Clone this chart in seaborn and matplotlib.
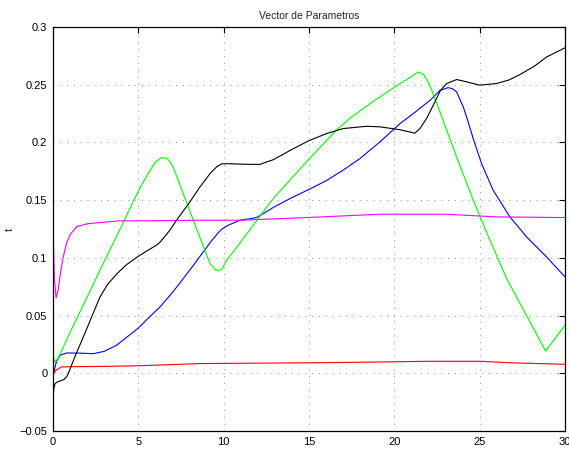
import pandas as pd
import matplotlib
matplotlib.use("Agg")
import matplotlib.pyplot as plt
import seaborn as sns

# values (x, parameter value)
blue_x = [0, 0.1, 0.2, 0.41, 0.8, 1.5, 2.36, 3.0, 3.73, 4.3, 4.96, 5.6, 6.27, 7.0, 7.63,
          8.2, 8.7, 9.3, 9.7, 9.9, 10.3, 10.96, 11.5, 11.93, 12.4, 12.9, 13.88, 14.96,
          16.03, 17.0, 17.98, 19.16, 20.33, 21.2, 22.1, 22.67, 23.16, 23.4, 23.65,
          24.04, 24.3, 24.62, 25.11, 25.79, 26.77, 27.75, 28.92, 30.0]
blue_y = [-0.002, 0.004, 0.010, 0.0156, 0.0176, 0.0175, 0.017, 0.019, 0.0243, 0.031,
          0.0387, 0.048, 0.0575, 0.070, 0.082, 0.093, 0.103, 0.115, 0.122, 0.125,
          0.1285, 0.1326, 0.1338, 0.135, 0.139, 0.1436, 0.1513, 0.159, 0.167, 0.176,
          0.186, 0.2005, 0.2163, 0.226, 0.2366, 0.245, 0.2475, 0.2465, 0.2438, 0.2308,
          0.219, 0.2034, 0.1817, 0.1586, 0.1355, 0.1181, 0.1008, 0.0835]

green_x = [0, 0.06, 0.12, 0.3, 1.0, 2.0, 3.0, 4.0, 4.7, 5.3, 5.7, 6.0, 6.37, 6.7, 7.0,
           7.24, 8.22, 9.2, 9.5, 9.68, 9.9, 10.2, 10.76, 11.54, 12.9, 14.96, 16.6, 17.4,
           18.86, 20.33, 21.0, 21.4, 21.7, 22.0, 22.28, 22.67, 23.65, 24.62, 25.6,
           26.58, 27.8, 28.86, 30.0]
green_y = [0.017, 0.012, 0.0095, 0.013, 0.0355, 0.066, 0.097, 0.127, 0.149, 0.166, 0.176,
           0.183, 0.187, 0.186, 0.18, 0.171, 0.1326, 0.095, 0.090, 0.0887, 0.0905, 0.0985,
           0.109, 0.1245, 0.1513, 0.185, 0.2106, 0.221, 0.2366, 0.251, 0.257, 0.261,
           0.259, 0.252, 0.242, 0.2265, 0.1874, 0.15, 0.1153, 0.082, 0.0486, 0.0193,
           0.0416]

red_x = [0, 0.2, 0.5, 1.0, 3.0, 5.0, 8.6, 12.0, 16.0, 19.2, 22.0, 25.0, 27.0, 30.0]
red_y = [-0.001, 0.003, 0.0055, 0.0057, 0.006, 0.0065, 0.0084, 0.0088, 0.0092,
         0.0098, 0.0104, 0.0104, 0.009, 0.0078]

magenta_x = [0, 0.03, 0.08, 0.18, 0.3, 0.45, 0.6, 0.8, 1.0, 1.39, 2.0, 2.75, 3.83, 6.0,
             8.6, 10.96, 15.0, 19.16, 23.0, 26.0, 30.0]
magenta_y = [0.004, 0.1095, 0.082, 0.0653, 0.072, 0.088, 0.1008, 0.113, 0.12, 0.127,
             0.1295, 0.1306, 0.132, 0.1322, 0.1326, 0.1326, 0.135, 0.1378, 0.1378,
             0.1355, 0.1349]

black_x = [0, 0.05, 0.12, 0.25, 0.45, 0.64, 0.8, 0.9, 1.3, 1.78, 2.27, 2.75, 3.2, 3.73,
           4.3, 4.96, 5.5, 6.07, 6.3, 6.85, 7.24, 8.0, 8.61, 9.2, 9.6, 9.9, 10.5, 11.0,
           11.5, 12.13, 12.5, 12.9, 13.4, 13.88, 14.96, 16.03, 17.0, 18.37, 19.16,
           20.33, 21.2, 21.5, 21.9, 22.28, 22.7, 23.06, 23.65, 24.23, 25.0, 25.98,
           26.7, 27.36, 28.2, 28.92, 30.0]
black_y = [-0.0205, -0.013, -0.009, -0.0075, -0.0065, -0.0054, -0.003, 0.0, 0.015,
           0.0315, 0.049, 0.066, 0.077, 0.086, 0.094, 0.101, 0.106, 0.111, 0.114, 0.124,
           0.1326, 0.148, 0.1614, 0.173, 0.179, 0.1815, 0.1815, 0.1812, 0.181, 0.181,
           0.183, 0.185, 0.189, 0.193, 0.2013, 0.2077, 0.212, 0.214, 0.2135, 0.211,
           0.208, 0.212, 0.221, 0.2322, 0.245, 0.251, 0.2545, 0.2525, 0.2496, 0.251,
           0.254, 0.2588, 0.266, 0.274, 0.282]

series = [
    (blue_x, blue_y, "#0000ff"),
    (green_x, green_y, "#00ff00"),
    (red_x, red_y, "#ff0000"),
    (magenta_x, magenta_y, "#ff00ff"),
    (black_x, black_y, "#000000"),
]

x_ticks = [0, 5, 10, 15, 20, 25, 30]
y_ticks = [-0.05, 0, 0.05, 0.1, 0.15, 0.2, 0.25, 0.3]
y_labels = ["\u22120.05", "0", "0.05", "0.1", "0.15", "0.2", "0.25", "0.3"]

sns.set_theme(style="white")
plt.rcParams["font.family"] = ["Liberation Sans", "DejaVu Sans"]

fig = plt.figure(figsize=(5.69, 4.49), dpi=100)
ax = fig.add_axes([53 / 569, 1 - 431 / 449, 512 / 569, 404 / 449])

for xs, ys, col in series:
    df = pd.DataFrame({"x": xs, "y": ys})
    sns.lineplot(data=df, x="x", y="y", color=col, linewidth=0.8, sort=False,
                 estimator=None, ax=ax)

ax.set_xlim(0, 30)
ax.set_ylim(-0.05, 0.3)
ax.set_xticks(x_ticks)
ax.set_yticks(y_ticks)
ax.set_yticklabels(y_labels)
ax.grid(True, linestyle=(0, (1, 6)), color="#8c8c8c", linewidth=0.7)
ax.tick_params(direction="in", length=4, width=0.8, top=True, right=True,
               labelsize=8, colors="black", pad=4)
for sp in ax.spines.values():
    sp.set_color("black")
    sp.set_linewidth(0.9)

ax.set_title("Vector de Parametros", fontsize=7.5, pad=6)
ax.set_xlabel("")
ax.set_ylabel("t", fontsize=8)
ax.yaxis.set_label_coords(-0.075, 0.5)

fig.savefig("out.png", dpi=100, facecolor="white")
